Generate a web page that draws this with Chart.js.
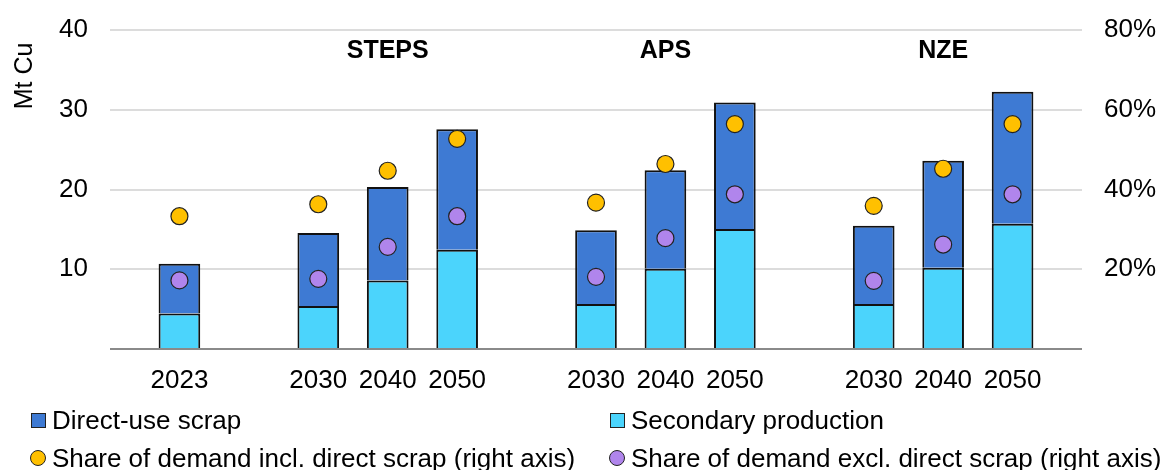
<!DOCTYPE html>
<html lang="en">
<head>
  <meta charset="UTF-8" />
  <title>Copper recycling by scenario</title>
  <style>
    body {
      margin: 0;
      background: #fff;
      font-family: "Liberation Sans", Arial, sans-serif;
    }
    #wrap {
      position: relative;
      width: 1169px;
      height: 470px;
    }
    .legend-item {
      position: absolute;
      display: flex;
      align-items: center;
      font-size: 26px;
      color: #000;
      white-space: nowrap;
      line-height: 30px;
    }
    .legend-item .mark {
      width: 15px;
      height: 15px;
      margin-right: 6px;
      box-sizing: border-box;
      border: 1.5px solid #222;
    }
    .legend-item .mark.dot {
      border-radius: 50%;
      width: 16px;
      height: 16px;
    }
  </style>
</head>
<body>
  <div id="wrap">
    <canvas id="chart" width="1169" height="470"></canvas>
  </div>

  <script src="https://cdn.jsdelivr.net/npm/chart.js"></script>
  <script>
    // x slots: empty slots make the gaps between the scenario groups
    const categories = ['', '2023', '', '2030', '2040', '2050', '', '2030', '2040', '2050', '', '2030', '2040', '2050', ''];
    const secondaryProduction = [null, 4.45, null, 5.4, 8.6, 12.45, null, 5.65, 10.05, 15.05, null, 5.65, 10.2, 15.7, null];
    const directUseScrap = [null, 6.25, null, 9.15, 11.7, 15.1, null, 9.25, 12.35, 15.85, null, 9.8, 13.4, 16.55, null];
    const shareIncl = [null, 33.3, null, 36.3, 44.7, 52.7, null, 36.7, 46.4, 56.4, null, 35.9, 45.2, 56.4, null];
    const shareExcl = [null, 17.2, null, 17.6, 25.6, 33.3, null, 18.1, 27.8, 38.8, null, 17.1, 26.2, 38.8, null];
    const scenarios = ['STEPS', 'APS', 'NZE'];
    const scenarioCenters = [4, 8, 12]; // category index under each scenario name

    const FONT = '"Liberation Sans", Arial, sans-serif';
    Chart.defaults.font.family = FONT;
    Chart.defaults.font.size = 26;
    Chart.defaults.color = '#000';

    const datasets = [
      { type: 'line', label: 'Share of demand incl. direct scrap (right axis)', data: shareIncl, yAxisID: 'y2',
        showLine: false, pointRadius: 8.5, pointHoverRadius: 8.5, pointBackgroundColor: '#FFC000',
        pointBorderColor: '#222', pointBorderWidth: 1.2, backgroundColor: '#FFC000', order: 0 },
      { type: 'line', label: 'Share of demand excl. direct scrap (right axis)', data: shareExcl, yAxisID: 'y2',
        showLine: false, pointRadius: 8.5, pointHoverRadius: 8.5, pointBackgroundColor: '#B085EC',
        pointBorderColor: '#222', pointBorderWidth: 1.2, backgroundColor: '#B085EC', order: 0 },
      { type: 'bar', label: 'Secondary production', data: secondaryProduction, yAxisID: 'y',
        backgroundColor: '#4BD4FC', borderColor: '#111', borderWidth: 2, order: 1 },
      { type: 'bar', label: 'Direct-use scrap', data: directUseScrap, yAxisID: 'y',
        backgroundColor: '#3E7AD3', borderColor: '#111', borderWidth: 2, order: 1 }
    ];

    const textPlugin = {
      id: 'extraText',
      afterDraw(chart) {
        const c = chart.ctx;
        const x = chart.scales.x;
        c.save();
        c.fillStyle = '#000';
        c.textAlign = 'center';
        c.textBaseline = 'middle';
        c.font = 'bold 25px ' + FONT;
        scenarios.forEach((name, i) => {
          c.fillText(name, x.getPixelForValue(scenarioCenters[i]), 51);
        });
        c.font = '25px ' + FONT;
        c.translate(25, 76);
        c.rotate(-Math.PI / 2);
        c.fillText('Mt Cu', 0, 0);
        c.restore();
      }
    };

    // fixed axis boxes so the plot area lands where it does in the original
    const fixVertical = w => s => {
      s.width = w;
      s.paddingTop = 0;
      s.paddingBottom = 0;
    };

    new Chart(document.getElementById('chart'), {
      type: 'bar',
      data: { labels: categories, datasets: datasets },
      options: {
        responsive: false,
        animation: false,
        layout: { padding: { top: 30, bottom: 80, left: 0, right: 0 } },
        categoryPercentage: 0.6,
        barPercentage: 1,
        plugins: {
          legend: { display: false },
          tooltip: { enabled: false }
        },
        scales: {
          x: {
            stacked: true,
            offset: false,
            grid: { display: false, offset: false },
            border: { display: false },
            ticks: { padding: 8, maxRotation: 0, autoSkip: false },
            afterFit: s => { s.height = 41; }
          },
          y: {
            stacked: true,
            position: 'left',
            min: 0,
            max: 40,
            ticks: {
              stepSize: 10,
              padding: 22,
              callback: v => (v === 0 ? '' : v)
            },
            grid: {
              drawTicks: false,
              lineWidth: 2,
              color: ctx => (ctx.tick && ctx.tick.value === 0 ? '#8a8a8a' : '#dcdcdc')
            },
            border: { display: false },
            afterFit: fixVertical(110)
          },
          y2: {
            stacked: false,
            position: 'right',
            min: 0,
            max: 80,
            ticks: {
              stepSize: 20,
              padding: 22,
              callback: v => (v === 0 ? '' : v + '%')
            },
            grid: { drawOnChartArea: false, drawTicks: false },
            border: { display: false },
            afterFit: fixVertical(87)
          }
        }
      },
      plugins: [textPlugin]
    });

    // legend in the two-column layout of the original
    const legendOrder = [
      { ds: 3, left: 31, top: 405, shape: 'box' },
      { ds: 2, left: 610, top: 405, shape: 'box' },
      { ds: 0, left: 30, top: 443, shape: 'dot' },
      { ds: 1, left: 609, top: 443, shape: 'dot' }
    ];
    const wrap = document.getElementById('wrap');
    legendOrder.forEach(item => {
      const d = datasets[item.ds];
      const el = document.createElement('div');
      el.className = 'legend-item';
      el.style.left = item.left + 'px';
      el.style.top = item.top + 'px';
      const mark = document.createElement('span');
      mark.className = 'mark' + (item.shape === 'dot' ? ' dot' : '');
      mark.style.background = d.backgroundColor;
      el.appendChild(mark);
      const txt = document.createElement('span');
      txt.textContent = d.label;
      el.appendChild(txt);
      wrap.appendChild(el);
    });
  </script>
</body>
</html>
